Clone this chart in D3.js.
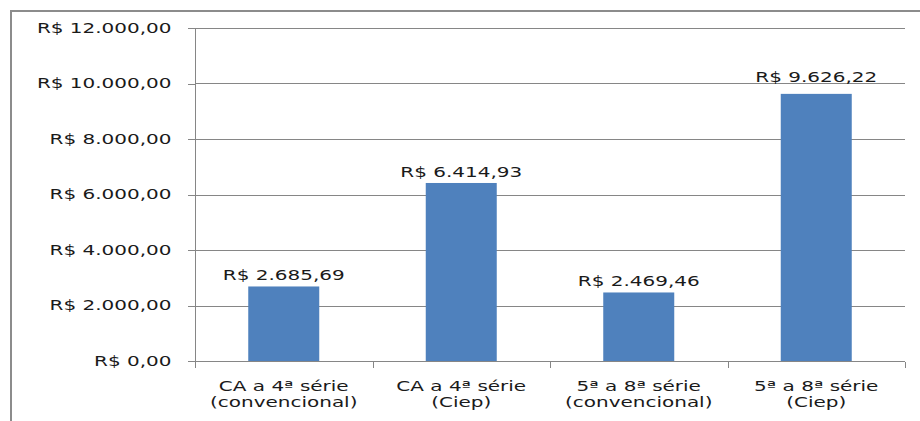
<!DOCTYPE html>
<html lang="pt-BR">
<head>
  <meta charset="utf-8">
  <title>Custo por aluno</title>
  <script src="https://cdn.jsdelivr.net/npm/d3@7"></script>
  <style>
    html, body { margin: 0; padding: 0; background: #fff; overflow: hidden; }
    svg text { font-family: "DejaVu Sans", sans-serif; font-size: 13.5px; fill: #1a1a1a; }
    .axis path, .axis line { stroke: #868686; shape-rendering: crispEdges; }
    .grid line { stroke: #868686; shape-rendering: crispEdges; }
    .bar { fill: #4f81bd; }
  </style>
</head>
<body>
  <div id="box"></div>
  <script>
    // dados
    const categories = ['CA a 4ª série|(convencional)', 'CA a 4ª série|(Ciep)', '5ª a 8ª série|(convencional)', '5ª a 8ª série|(Ciep)']
    const values = [2685.69, 6414.93, 2469.46, 9626.22]
    const yTicks = [0, 2000, 4000, 6000, 8000, 10000, 12000]

    const width = 920
    const height = 421
    const plot = { left: 195, right: 905, top: 28, bottom: 361 }
    // o texto original aparece esticado na horizontal
    const stretch = 1.48

    const ptBR = d3.formatLocale({
      decimal: ',',
      thousands: '.',
      grouping: [3],
      currency: ['R$ ', '']
    })
    const money = ptBR.format('$,.2f')

    const xScale = d3.scaleBand()
      .domain(d3.range(categories.length))
      .range([plot.left, plot.right])
      .paddingInner(0)

    const yScale = d3.scaleLinear()
      .domain([0, 12000])
      .range([plot.bottom, plot.top])

    const svg = d3.select('#box').append('svg')
      .attr('width', width)
      .attr('height', height)

    // moldura externa
    svg.append('rect')
      .attr('x', 11).attr('y', 11)
      .attr('width', width + 20).attr('height', height + 20)
      .attr('fill', 'none')
      .attr('stroke', '#8c8c8c')
      .attr('stroke-width', 2)

    // linhas de grade
    const gridY = yTicks.filter(d => d > 0).map(d => Math.round(yScale(d)) + 0.5)
    svg.append('g')
      .attr('class', 'grid')
      .selectAll('line')
      .data(gridY)
      .enter()
      .append('line')
      .attr('x1', plot.left).attr('x2', plot.right)
      .attr('y1', d => d)
      .attr('y2', d => d)

    // barras (largura = 40% da faixa, como gap 150% do Excel)
    const barW = xScale.bandwidth() * 0.4
    svg.selectAll('.bar')
      .data(values)
      .enter()
      .append('rect')
      .attr('class', 'bar')
      .attr('x', (d, i) => xScale(i) + (xScale.bandwidth() - barW) / 2)
      .attr('y', d => yScale(d))
      .attr('width', barW)
      .attr('height', d => yScale(0) - yScale(d))

    // rótulos dos valores: acima da barra; se cruzar uma linha de grade, sobe para cima dela
    function labelBase(d) {
      let base = yScale(d) - 6
      const top = base - 11
      gridY.forEach(g => {
        if (g > top && g < base + 1) base = g - 1.5
      })
      return base
    }
    svg.selectAll('.valLabel')
      .data(values)
      .enter()
      .append('g')
      .attr('class', 'valLabel')
      .attr('transform', (d, i) => `translate(${xScale(i) + xScale.bandwidth() / 2},${labelBase(d)})`)
      .append('text')
      .attr('text-anchor', 'middle')
      .attr('transform', `scale(${stretch},1)`)
      .text(d => money(d))

    // eixo y
    const yAxis = d3.axisLeft(yScale)
      .tickValues(yTicks)
      .tickSize(8)
      .tickFormat(money)
    const gy = svg.append('g')
      .attr('class', 'axis')
      .attr('transform', `translate(${plot.left + 0.5},0)`)
      .call(yAxis)
    gy.select('.domain').attr('d', `M0,${plot.top}V${plot.bottom}`)
    gy.selectAll('.tick line').attr('x1', 0).attr('x2', -8)
    gy.selectAll('.tick text')
      .attr('x', -24 / stretch)
      .attr('transform', `scale(${stretch},1)`)

    // eixo x
    const xAxis = d3.axisBottom(xScale).tickSize(0).tickFormat('')
    const gx = svg.append('g')
      .attr('class', 'axis')
      .attr('transform', `translate(0,${plot.bottom + 0.5})`)
      .call(xAxis)
    gx.select('.domain').attr('d', `M${plot.left},0H${plot.right}`)
    gx.selectAll('.tick').remove()

    // marcas entre categorias
    gx.selectAll('.sep')
      .data(d3.range(categories.length + 1))
      .enter()
      .append('line')
      .attr('x1', i => Math.round(plot.left + i * xScale.bandwidth()) + 0.5)
      .attr('x2', i => Math.round(plot.left + i * xScale.bandwidth()) + 0.5)
      .attr('y1', 0).attr('y2', 6)

    // rótulos das categorias
    const catText = gx.selectAll('.cat')
      .data(categories)
      .enter()
      .append('g')
      .attr('class', 'cat')
      .attr('transform', (d, i) => `translate(${xScale(i) + xScale.bandwidth() / 2},0)`)
      .append('text')
      .attr('text-anchor', 'middle')
      .attr('transform', `scale(${stretch},1)`)
    catText.selectAll('tspan')
      .data(d => d.split('|'))
      .enter()
      .append('tspan')
      .attr('x', 0)
      .attr('y', (d, i) => 30 + i * 16)
      .text(d => d)
  </script>
</body>
</html>
